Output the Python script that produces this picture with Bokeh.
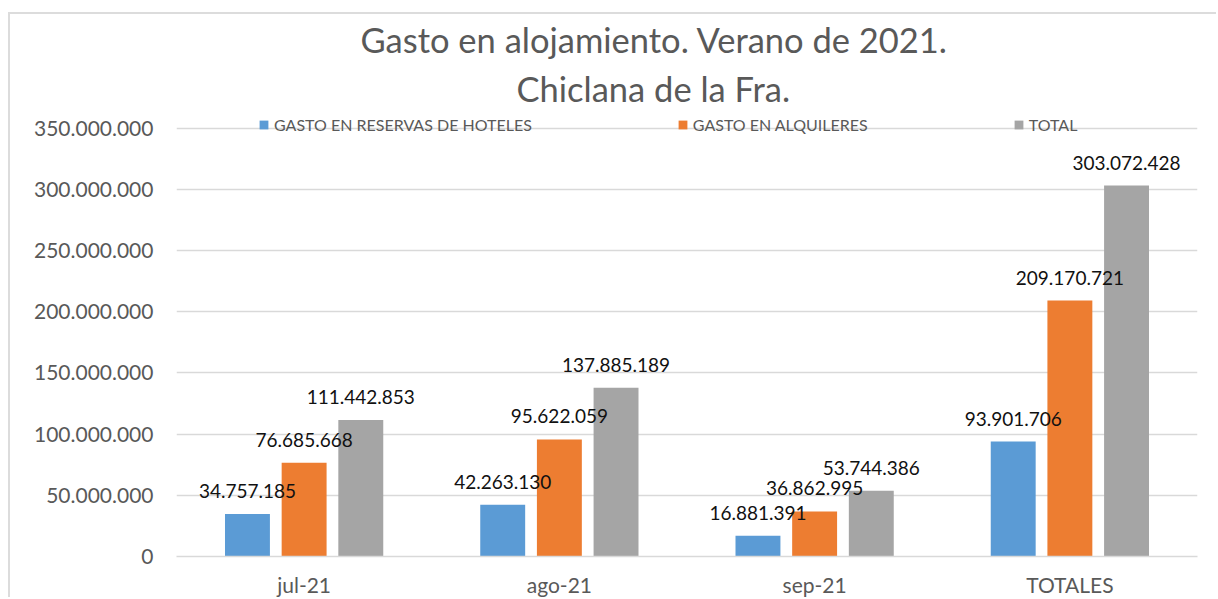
from bokeh.plotting import figure
from bokeh.models import (ColumnDataSource, FactorRange, Range1d, FixedTicker,
                          CustomJSTickFormatter, Legend, LegendItem, Title)
from bokeh.transform import dodge
from bokeh.core.properties import value
from bokeh.embed import file_html
from bokeh.resources import INLINE

categories = ["jul-21", "ago-21", "sep-21", "TOTALES"]
hoteles = [34757185, 42263130, 16881391, 93901706]
alquileres = [76685668, 95622059, 36862995, 209170721]
total = [111442853, 137885189, 53744386, 303072428]
series_names = ["GASTO EN RESERVAS DE HOTELES", "GASTO EN ALQUILERES", "TOTAL"]
y_ticks = [0, 50000000, 100000000, 150000000, 200000000, 250000000, 300000000, 350000000]
title_lines = ["Gasto en alojamiento. Verano de 2021.", "Chiclana de la Fra."]

colors = ["#5B9BD5", "#ED7D31", "#A5A5A5"]
offsets = [-0.222, 0.0, 0.222]
FONT = "Lato"
GREY_TXT = "#595959"
GRID = "#D9D9D9"


def fmt(v):
    return f"{v:,}".replace(",", ".")


src = ColumnDataSource(dict(
    cat=categories,
    hoteles=hoteles, alquileres=alquileres, total=total,
    hoteles_lbl=[fmt(v) for v in hoteles],
    alquileres_lbl=[fmt(v) for v in alquileres],
    total_lbl=[fmt(v) for v in total],
))

p = figure(x_range=FactorRange(*categories, range_padding=0),
           y_range=Range1d(0, 362000000),
           width=1208, height=585, output_backend="svg", toolbar_location=None,
           min_border_left=166, min_border_right=21, min_border_top=98, min_border_bottom=43)

p.styles = {"border-top": "2px solid #DCDCDC", "border-left": "2px solid #DCDCDC",
            "margin-top": "12px", "margin-left": "8px"}
p.outline_line_color = None
p.background_fill_color = "white"
p.border_fill_color = "white"

keys = ["hoteles", "alquileres", "total"]
renderers = []
for key, col, off in zip(keys, colors, offsets):
    r = p.vbar(x=dodge("cat", off, range=p.x_range), top=key, width=0.176, source=src,
               fill_color=col, line_color=None)
    renderers.append(r)
for key, off in zip(keys, offsets):
    p.text(x=dodge("cat", off, range=p.x_range), y=key, text=key + "_lbl", source=src,
           y_offset=-23, text_align="center", text_baseline="middle",
           text_font=value(FONT), text_font_size="19px", text_color="#111111")

legend = Legend(items=[LegendItem(label=n, renderers=[r]) for n, r in zip(series_names, renderers)],
                orientation="horizontal", location=(82, 422),
                padding=0, margin=0, spacing=145, label_standoff=5,
                glyph_width=11, glyph_height=11,
                label_text_font=FONT, label_text_font_size="16px", label_text_color=GREY_TXT,
                border_line_color=None, background_fill_alpha=0)
p.add_layout(legend, "center")

# axes
p.yaxis.ticker = FixedTicker(ticks=y_ticks)
p.yaxis.formatter = CustomJSTickFormatter(code="""
    return Math.round(tick).toString().replace(/\\B(?=(\\d{3})+(?!\\d))/g, ".");
""")
p.yaxis.axis_line_color = None
p.yaxis.major_tick_line_color = None
p.yaxis.minor_tick_line_color = None
p.yaxis.major_tick_out = 0
p.yaxis.major_tick_in = 0
p.yaxis.major_label_standoff = 23
p.yaxis.major_label_text_font = FONT
p.yaxis.major_label_text_font_size = "21px"
p.yaxis.major_label_text_color = GREY_TXT

p.xaxis.axis_line_color = GRID
p.xaxis.axis_line_width = 1.5
p.xaxis.major_tick_line_color = None
p.xaxis.minor_tick_line_color = None
p.xaxis.major_tick_out = 0
p.xaxis.major_tick_in = 0
p.xaxis.major_label_standoff = 15
p.xaxis.major_label_text_font = FONT
p.xaxis.major_label_text_font_size = "21px"
p.xaxis.major_label_text_color = GREY_TXT

p.xgrid.grid_line_color = None
p.ygrid.grid_line_color = GRID
p.ygrid.grid_line_width = 1.5

# titles (added closest-first)
p.add_layout(Title(text=title_lines[1], align="left", offset=340, standoff=9,
                   text_font=FONT, text_font_size="34.5px", text_font_style="normal",
                   text_color=GREY_TXT), "above")
p.add_layout(Title(text=title_lines[0], align="left", offset=184, standoff=4,
                   text_font=FONT, text_font_size="34.5px", text_font_style="normal",
                   text_color=GREY_TXT), "above")

open("out.html", "w").write(file_html(p, INLINE))
